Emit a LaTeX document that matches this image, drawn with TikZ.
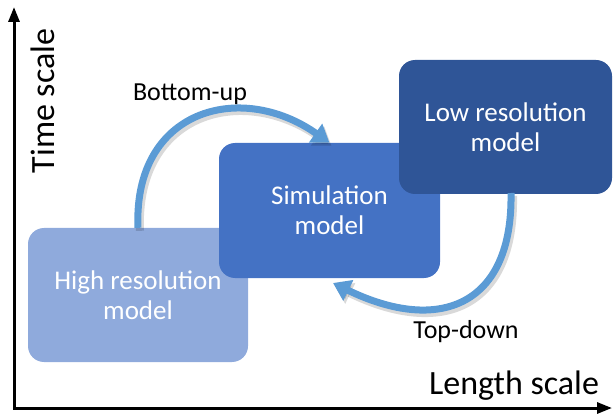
\documentclass[tikz,border=0pt]{standalone}
\usepackage{fontspec}
\setmainfont{Carlito}
\usetikzlibrary{arrows.meta}
\definecolor{hiblue}{HTML}{8FAADC}
\definecolor{simblue}{HTML}{4472C4}
\definecolor{loblue}{HTML}{2F5597}
\definecolor{arrblue}{HTML}{5B9BD5}
\begin{document}
\begin{tikzpicture}[x=1pt,y=-1pt,
  box/.style={rounded corners=16pt, text=white, align=center,
    font=\fontsize{27}{30}\selectfont, inner sep=0pt},
  lbl/.style={font=\fontsize{26}{30}\selectfont, inner sep=0pt},
  axlbl/.style={font=\fontsize{34}{40}\selectfont, inner sep=0pt},
  axis/.style={line width=3pt, line join=miter,
    {Triangle[length=15pt,width=11pt]}-{Triangle[length=15pt,width=11pt]}},
  flow/.style={line width=7pt, arrblue, -{Triangle[length=17pt,width=22pt]}},
  flowshadow/.style={line width=8pt, black, opacity=0.15,
    transform canvas={xshift=2pt,yshift=-3pt}, -{Triangle[length=17pt,width=22pt]}}]
\useasboundingbox (0,0) rectangle (613,414);

% axes
\coordinate (O) at (14,408);
\coordinate (Ytip) at (14,7);
\coordinate (Xtip) at (612,408);
\draw[axis] (Ytip) -- (O) -- (Xtip);

% boxes
\node[box, fill=hiblue, minimum width=220pt, minimum height=134pt] (hi) at (138,295) {High resolution\\model};
\node[box, fill=simblue, minimum width=221pt, minimum height=135pt] (sim) at (329.5,210.5) {Simulation\\model};
\node[box, fill=loblue, minimum width=213pt, minimum height=134pt] (lo) at (505.5,127) {Low resolution\\model};

% flow arrows
\coordinate (tdstart) at (511,193);
\coordinate (tdend) at (333,283);
\draw[flowshadow] (hi.north) .. controls (133,110) and (240,80) .. (sim.north);
\draw[flowshadow] (tdstart) .. controls (513,305) and (440,335) .. (tdend);
\draw[flow] (hi.north) .. controls (133,110) and (240,80) .. (sim.north);
\draw[flow] (tdstart) .. controls (513,305) and (440,335) .. (tdend);

% labels
\node[lbl] (bu) at (190,94) {Bottom-up};
\node[lbl] (td) at (466,332) {Top-down};
\node[axlbl, rotate=90] (ts) at (43,101) {Time scale};
\node[axlbl] (ls) at (514,386) {Length scale};
\end{tikzpicture}
\end{document}
